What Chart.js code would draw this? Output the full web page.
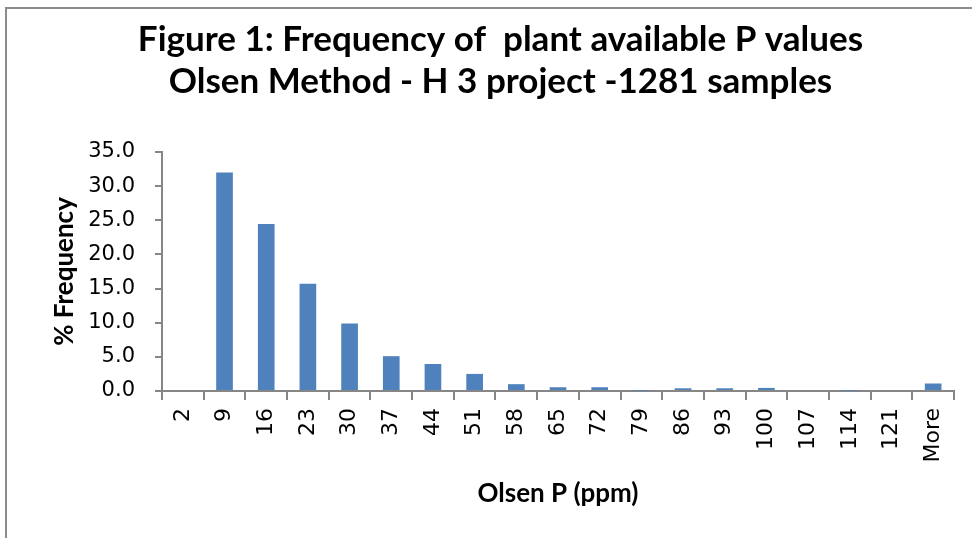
<!DOCTYPE html>
<html>

<head>
    <title>Frequency of plant available P values</title>

    <style>
        html,
        body {
            margin: 0;
            padding: 0;
            background-color: #fff;
            overflow: hidden;
        }

        #frame {
            position: absolute;
            left: 5px;
            top: 7px;
            width: 1000px;
            height: 600px;
            border-left: 2px solid #8c8c8c;
            border-top: 2px solid #8c8c8c;
        }

        #wrap {
            position: absolute;
            left: 0;
            top: 0;
            width: 972px;
            height: 538px;
        }
    </style>
</head>

<body>
    <div id="frame"></div>
    <div id="wrap"><canvas id="chart" width="972" height="538"></canvas></div>
    <script src="https://cdn.jsdelivr.net/npm/chart.js"></script>
    <script>
        // bins (ppm) and % frequency
        const bins = ['2', '9', '16', '23', '30', '37', '44', '51', '58', '65', '72', '79', '86', '93', '100', '107', '114', '121', 'More'];
        const freq = [0.15, 32.0, 24.45, 15.7, 9.9, 5.1, 3.95, 2.5, 1.0, 0.55, 0.55, 0.05, 0.4, 0.4, 0.45, 0, 0.05, 0.15, 1.1];
        const yTicks = [0, 5, 10, 15, 20, 25, 30, 35];

        const titleLines = ['Figure 1: Frequency of  plant available P values', 'Olsen Method - H 3 project -1281 samples'];
        const axisGray = '#868686';

        new Chart(document.getElementById('chart'), {
            type: 'bar',
            data: {
                labels: bins,
                datasets: [{
                    label: '% Frequency',
                    data: freq,
                    backgroundColor: '#4f81bd',
                    barPercentage: 0.4,
                    categoryPercentage: 1.0,
                }]
            },
            options: {
                responsive: false,
                animation: false,
                devicePixelRatio: 1,
                layout: {
                    padding: { left: 47, right: 18, top: 0, bottom: 20 }
                },
                plugins: {
                    legend: { display: false },
                    tooltip: { enabled: false },
                    title: {
                        display: true,
                        text: titleLines,
                        color: '#000',
                        font: { family: 'Lato', size: 35, weight: 'bold', lineHeight: '42px' },
                        padding: { top: 19, bottom: 49 },
                    },
                },
                scales: {
                    x: {
                        grid: {
                            offset: true,
                            drawOnChartArea: false,
                            color: axisGray,
                            lineWidth: 2,
                            tickLength: 9,
                        },
                        border: { color: axisGray, width: 2 },
                        ticks: {
                            color: '#000',
                            font: { family: 'DejaVu Sans', size: 22 },
                            minRotation: 90,
                            maxRotation: 90,
                            padding: 8,
                            autoSkip: false,
                        },
                        title: {
                            display: true,
                            text: 'Olsen P (ppm)',
                            color: '#000',
                            font: { family: 'Lato', size: 26, weight: 'bold', lineHeight: 1.2 },
                            padding: { top: 0, bottom: 9 },
                        },
                        afterFit: (scale) => { scale.height = 127; },
                    },
                    y: {
                        min: 0,
                        max: 35,
                        afterBuildTicks: (scale) => { scale.ticks = yTicks.map((v) => ({ value: v })); },
                        grid: {
                            drawOnChartArea: false,
                            color: axisGray,
                            lineWidth: 2,
                            tickLength: 7,
                        },
                        border: { color: axisGray, width: 2 },
                        ticks: {
                            color: '#000',
                            font: { family: 'DejaVu Sans', size: 21 },
                            padding: 20,
                            callback: (v) => Number(v).toFixed(1),
                        },
                        title: {
                            display: true,
                            text: '% Frequency',
                            color: '#000',
                            font: { family: 'Lato', size: 26, weight: 'bold', lineHeight: 1.2 },
                            padding: { top: 2, bottom: 0 },
                        },
                        afterFit: (scale) => { scale.width = 115; },
                    }
                }
            }
        });
    </script>
</body>

</html>
